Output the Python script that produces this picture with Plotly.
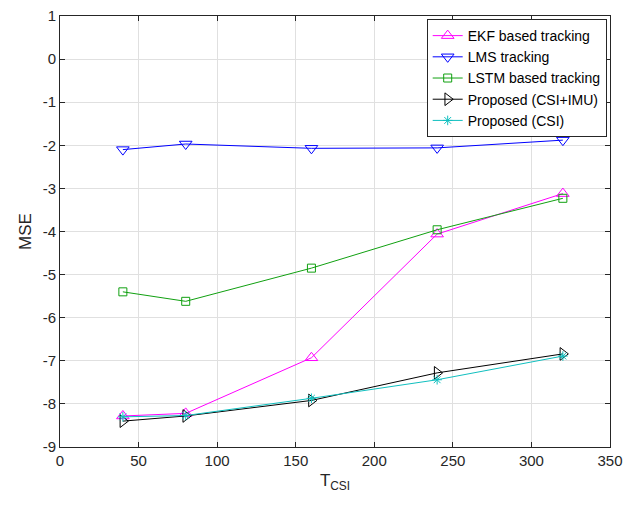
import plotly.graph_objects as go

t_csi = [40, 80, 160, 240, 320]
ekf = [-8.28, -8.22, -6.93, -4.06, -3.12]
lms = [-2.10, -1.97, -2.07, -2.06, -1.88]
lstm = [-5.40, -5.62, -4.85, -3.96, -3.23]
prop_csi_imu = [-8.40, -8.28, -7.92, -7.28, -6.84]
prop_csi = [-8.30, -8.27, -7.87, -7.44, -6.89]

x_ticks = [0, 50, 100, 150, 200, 250, 300, 350]
x_tick_labels = ["0", "50", "100", "150", "200", "250", "300", "350"]
y_ticks = [1, 0, -1, -2, -3, -4, -5, -6, -7, -8, -9]
y_tick_labels = ["1", "0", "-1", "-2", "-3", "-4", "-5", "-6", "-7", "-8", "-9"]

series = [
    ("EKF based tracking", ekf, "#FF00FF", "triangle-up-open", 11),
    ("LMS tracking", lms, "#0000FF", "triangle-down-open", 11),
    ("LSTM based tracking", lstm, "#10A010", "square-open", 8),
    ("Proposed (CSI+IMU)", prop_csi_imu, "#000000", "triangle-right-open", 11),
    ("Proposed (CSI)", prop_csi, "#10BFBF", "asterisk-open", 8),
]

fig = go.Figure()
for name, ys, color, sym, size in series:
    fig.add_trace(go.Scatter(
        x=t_csi, y=ys, name=name, mode="lines+markers",
        line=dict(color=color, width=1),
        marker=dict(symbol=sym, size=size, color=color, line=dict(color=color, width=1)),
    ))

axis_common = dict(
    showgrid=True, gridcolor="#E0E0E0", gridwidth=1,
    showline=True, linecolor="#262626", linewidth=1, mirror="ticks",
    ticks="inside", ticklen=5, tickcolor="#262626",
    zeroline=False, automargin=False, ticklabeloverflow="allow",
    tickfont=dict(family="Liberation Sans, Arial", size=15, color="#262626"),
)

fig.update_layout(
    width=633, height=514,
    paper_bgcolor="white", plot_bgcolor="white",
    margin=dict(l=52, r=31, t=8, b=75),
    font=dict(family="Liberation Sans, Arial", size=15, color="#262626"),
    xaxis=dict(range=[0, 350], tickvals=x_ticks, ticktext=x_tick_labels,
               title=dict(text="T<sub>CSI</sub>", font=dict(size=17), standoff=6),
               **axis_common),
    yaxis=dict(range=[-9, 1], tickvals=y_ticks, ticktext=y_tick_labels,
               title=dict(text="MSE", font=dict(size=17), standoff=6),
               **axis_common),
    legend=dict(x=0.994, y=0.993, xanchor="right", yanchor="top",
                bgcolor="white", bordercolor="#262626", borderwidth=1,
                font=dict(family="Liberation Sans, Arial", size=14, color="#000000"),
                tracegroupgap=0, itemwidth=30),
    showlegend=True,
)

fig.write_html("out.html")
